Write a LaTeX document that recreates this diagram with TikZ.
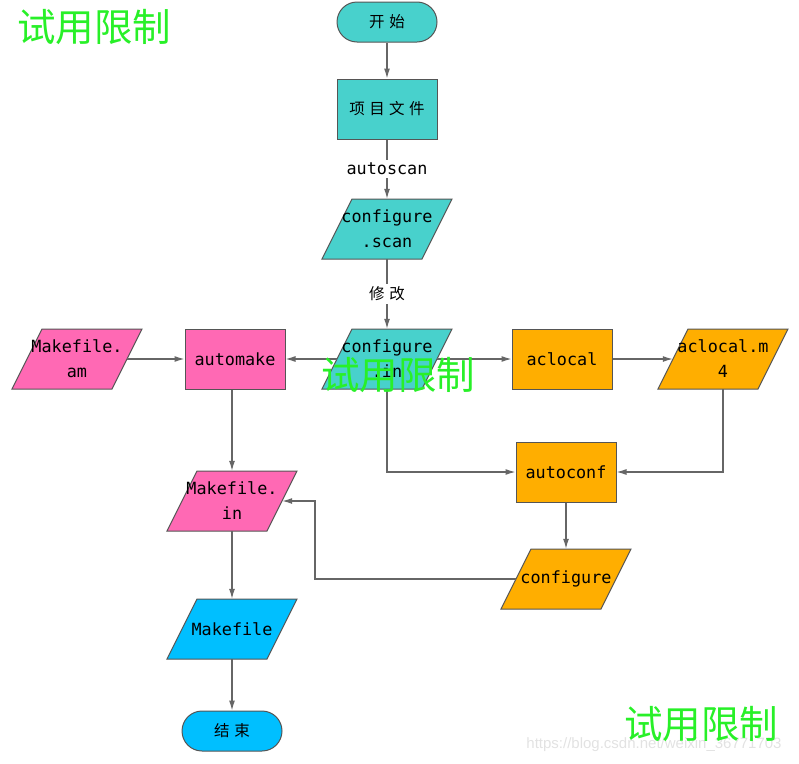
\documentclass[tikz,border=0pt]{standalone}
\usepackage{fontspec}
\newfontfamily\cjk{Noto Sans CJK SC}
\newfontfamily\monof{DejaVu Sans Mono}
\newfontfamily\urlf{Liberation Sans}
\usetikzlibrary{arrows.meta}
\definecolor{teal1}{HTML}{48D1CC}
\definecolor{pink1}{HTML}{FF69B4}
\definecolor{orange1}{HTML}{FFAE00}
\definecolor{blue1}{HTML}{00BFFF}
\definecolor{edgec}{HTML}{555555}
\definecolor{linec}{HTML}{666666}
\definecolor{wm}{RGB}{40,240,40}
\definecolor{urlc}{HTML}{E2E2E2}
\tikzset{
  base/.style={inner sep=0pt, font=\monof\fontsize{16.8}{25}\selectfont, text=black, align=center},
  boxn/.style={base, draw=edgec, line width=1pt, minimum width=100pt, minimum height=60pt},
  stadium/.style={base, draw=edgec, line width=1pt, minimum width=100pt, minimum height=40pt, rounded corners=20pt},
  paran/.style={base, minimum width=100pt, minimum height=60pt},
  arr/.style={draw=linec, line width=1.2pt, -{Latex[length=10pt,width=6pt]}},
  lbl/.style={base, fill=white, inner sep=3pt},
  cjkt/.style={font=\cjk\fontsize{15.5}{18}\selectfont},
  wmark/.style={text=wm, font=\cjk\fontsize{38.5}{42}\selectfont, inner sep=0pt},
}
\newcommand{\parashape}[3]{% cx, cy, color
  \fill[#3, draw=edgec, line width=1pt] (#1-65,#2+30) -- (#1+35,#2+30) -- (#1+65,#2-30) -- (#1-35,#2-30) -- cycle;
}
\begin{document}
\begin{tikzpicture}[x=1pt,y=-1pt]
\useasboundingbox (0,0) rectangle (799,763);
% parallelogram backgrounds
\parashape{387}{229}{teal1}
\parashape{387}{359}{teal1}
\parashape{77}{359}{pink1}
\parashape{723}{359}{orange1}
\parashape{566}{579}{orange1}
\parashape{232}{501}{pink1}
\parashape{232}{629}{blue1}
% nodes
\node[stadium, fill=teal1, cjkt] (start) at (387,22) {开\kern5pt 始};
\node[boxn, fill=teal1, cjkt] (proj) at (387,109) {项\kern4.5pt 目\kern4.5pt 文\kern4.5pt 件};
\node[paran] (scan) at (387,229) {configure\\.scan};
\node[paran] (cin) at (387,359) {configure\\.in};
\node[paran] (mam) at (77,359) {Makefile.\\am};
\node[boxn, fill=pink1] (automake) at (235,359) {automake};
\node[boxn, fill=orange1] (aclocal) at (562,359) {aclocal};
\node[paran] (m4) at (723,359) {aclocal.m\\4};
\node[boxn, fill=orange1] (autoconf) at (566,472) {autoconf};
\node[paran] (conf) at (566,579) {configure};
\node[paran] (min) at (232,501) {Makefile.\\in};
\node[paran] (mk) at (232,629) {Makefile};
\node[stadium, fill=blue1, cjkt] (end) at (232,731) {结\kern5pt 束};
\coordinate (bend) at (315,579);
% connectors
\draw[arr] (start) -- (proj);
\draw[arr] (proj) -- node[lbl] {autoscan} (scan);
\draw[arr] (scan) -- node[lbl, cjkt] {修\kern5pt 改} (cin);
\draw[arr] (cin) -- (automake);
\draw[arr] (mam) -- (automake);
\draw[arr] (cin) -- (aclocal);
\draw[arr] (aclocal) -- (m4);
\draw[arr] (cin.south) |- (autoconf.west);
\draw[arr] (m4.south) |- (autoconf.east);
\draw[arr] (autoconf) -- (conf);
\draw[arr] (conf.west) -- (bend) |- (min.east);
\draw[arr] (automake.south -| min.north) -- (min.north);
\draw[arr] (min) -- (mk);
\draw[arr] (mk) -- (end);
% watermarks
\node[wmark] (wm1) at (94,27) {试用限制};
\node[wmark] (wm2) at (398,375) {试用限制};
\node[text=urlc, font=\urlf\fontsize{15}{18}\selectfont, inner sep=0pt] (url) at (654,745) {https://blog.csdn.net/weixin\_36771703};
\node[wmark] (wm3) at (701,724) {试用限制};
\end{tikzpicture}
\end{document}
